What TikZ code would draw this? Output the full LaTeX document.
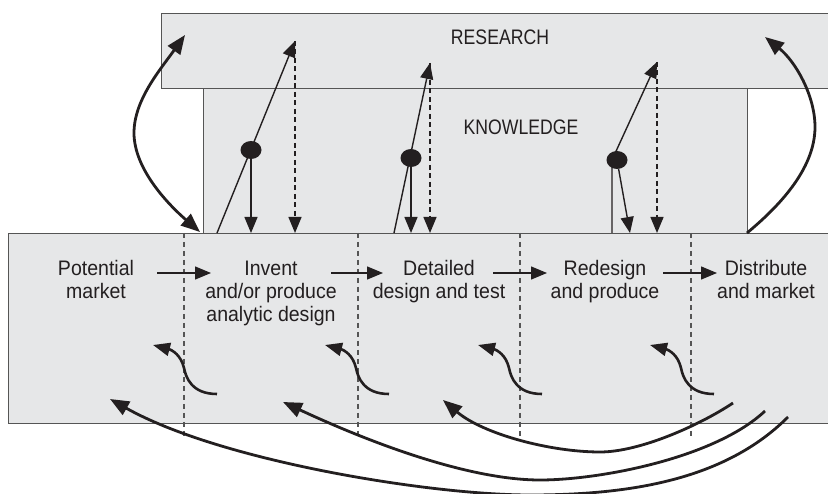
\documentclass[tikz,border=0pt]{standalone}
\usepackage{fontspec}
\setmainfont{Liberation Sans}[FakeStretch=0.93]
\newfontfamily\capsfont{Liberation Sans}[FakeStretch=0.84]
\usepackage{tikz}
\usetikzlibrary{positioning, shapes.geometric, arrows.meta}
\definecolor{pnlFill}{RGB}{230, 231, 232}
\definecolor{pnlLine}{RGB}{85, 85, 85}
\definecolor{inkBlack}{RGB}{35, 31, 32}
\tikzset{
    bigtip/.tip={Triangle[length=19pt, width=15pt]},
    smalltip/.tip={Triangle[length=16pt, width=13pt]},
    panel/.style={
        rectangle,
        draw=pnlLine,
        line width=1.3pt,
        fill=pnlFill,
        anchor=north west,
        inner sep=0pt
    },
    stage/.style={
        font=\fontsize{21}{23}\selectfont,
        align=center,
        text=inkBlack,
        anchor=base,
        inner sep=0pt
    },
    heading/.style={
        font=\capsfont\fontsize{21}{23}\selectfont,
        text=inkBlack,
        anchor=base,
        inner sep=0pt
    },
    divider/.style={
        draw=pnlLine,
        line width=1.1pt,
        dash pattern=on 5pt off 4pt
    },
    flow/.style={
        -smalltip,
        line width=1.4pt,
        color=inkBlack
    },
    feedback/.style={
        flow,
        dash pattern=on 5pt off 3.5pt
    },
    sweep/.style={
        line width=2.8pt,
        color=inkBlack
    },
    twist/.style={
        -{Triangle[length=17pt, width=13pt]},
        line width=2.6pt,
        color=inkBlack
    },
    knot/.style={
        ellipse,
        fill=inkBlack,
        minimum width=21pt,
        minimum height=18pt,
        inner sep=0pt
    }
}

\begin{document}
\begin{tikzpicture}[x=1pt, y=-1pt]
  \useasboundingbox (0,0) rectangle (828,494);
  \clip (0,0) rectangle (828,494);

  % the three panels
  \node[panel, minimum width=690pt, minimum height=75pt] (research) at (161,13) {};
  \node[panel, minimum width=544pt, minimum height=145pt] (knowledge) at (203,88) {};
  \node[panel, minimum width=840pt, minimum height=190pt] (process) at (8,233) {};

  \node[heading] (rlabel) at (500,45) {RESEARCH};
  \node[heading] (klabel) at (521,135) {KNOWLEDGE};

  % stages (base = last line)
  \node[stage] (potential) at (96,299) {Potential\\market};
  \node[stage] (invent) at (271,322) {Invent\\and/or produce\\analytic design};
  \node[stage] (detailed) at (439,299) {Detailed\\design and test};
  \node[stage] (redesign) at (605,299) {Redesign\\and produce};
  \node[stage] (distribute) at (766,299) {Distribute\\and market};

  \foreach \x [count=\i] in {184, 358, 520, 691} {
    \coordinate (top\i) at (\x,233);
    \coordinate (bot\i) at (\x,437);
    \draw[divider] (top\i) -- (bot\i);
  }

  \foreach \a/\b [count=\i] in {157/211, 331/383, 493/547, 663/717} {
    \coordinate (hs\i) at (\a,273);
    \coordinate (he\i) at (\b,273);
    \draw[flow] (hs\i) -- (he\i);
  }

  % small loops back
  \foreach \x [count=\i] in {217, 389, 542, 714} {
    \coordinate (wt\i) at (\x,394);
    \coordinate (wm\i) at (\x-33,368);
    \coordinate (wh\i) at (\x-64,345);
    \draw[twist] (wt\i) .. controls +(-25,0) and +(2,10) .. (wm\i)
                        .. controls +(-3,-13) and +(19,5) .. (wh\i);
  }

  % long loops back
  \coordinate (ta) at (733,403);
  \coordinate (la) at (600,452);
  \coordinate (ha) at (443,400);
  \draw[sweep, -bigtip] (ta) .. controls (700,425) and (640,452) .. (la)
                             .. controls (550,452) and (483,434) .. (ha);
  \coordinate (tb) at (765,411);
  \coordinate (lb) at (540,480);
  \coordinate (hb) at (283,402);
  \draw[sweep, -bigtip] (tb) .. controls (715,458) and (600,480) .. (lb)
                             .. controls (470,480) and (373,444) .. (hb);
  \coordinate (tc) at (788,417);
  \coordinate (lc) at (530,495);
  \coordinate (hc) at (110,399);
  \draw[sweep, -bigtip] (tc) .. controls (725,480) and (630,495) .. (lc)
                             .. controls (430,495) and (220,461) .. (hc);

  % market <-> research, distribution -> research
  \coordinate (lt) at (185,35);
  \coordinate (lm) at (134,133);
  \coordinate (lbot) at (200,232);
  \draw[sweep, bigtip-bigtip] (lt) .. controls (160,70) and (134,100) .. (lm)
                                   .. controls (134,170) and (170,206) .. (lbot);
  \coordinate (rb) at (747,233);
  \coordinate (rm) at (815,127);
  \coordinate (rt) at (765,37);
  \draw[sweep, -bigtip] (rb) .. controls (777,208) and (815,170) .. (rm)
                             .. controls (815,95) and (795,61) .. (rt);

  % knowledge links
  \node[knot] (d1) at (251,150) {};
  \node[knot] (d2) at (411,158) {};
  \node[knot] (d3) at (617,160) {};

  \coordinate (b1) at (217,233);
  \coordinate (r1) at (295,41);
  \coordinate (k1) at (251,233);
  \coordinate (f1) at (295,233);
  \draw[flow] (b1) -- (r1);
  \draw[flow] (d1) -- (k1);
  \draw[feedback] (r1) -- (f1);

  \coordinate (b2) at (394,233);
  \coordinate (r2) at (430,63);
  \coordinate (k2) at (411,233);
  \coordinate (f2) at (430,233);
  \draw[flow] (b2) -- (r2);
  \draw[flow] (d2) -- (k2);
  \draw[feedback] (r2) -- (f2);

  \coordinate (b3) at (612,233);
  \coordinate (r3) at (657,62);
  \coordinate (s3) at (630,233);
  \coordinate (f3) at (657,233);
  \draw[flow] (b3) -- (b3 |- d3) -- (r3);
  \draw[flow] (d3) -- (s3);
  \draw[feedback] (r3) -- (f3);
\end{tikzpicture}
\end{document}
